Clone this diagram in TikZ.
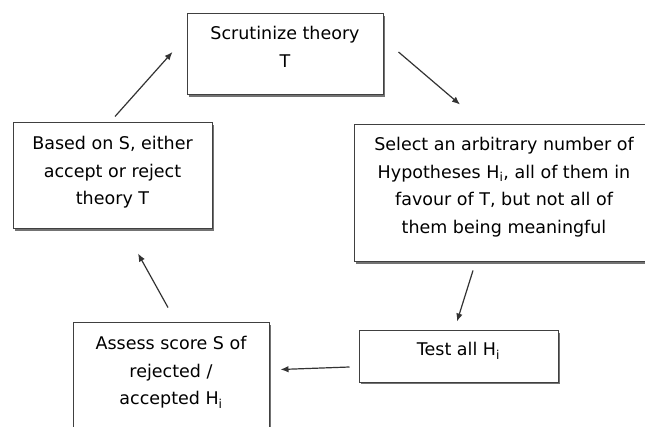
\documentclass[tikz,border=0pt]{standalone}
\usepackage{fontspec}
\setmainfont{DejaVu Sans}
\usetikzlibrary{calc,arrows.meta,shadows}
\begin{document}
\begin{tikzpicture}[x=1pt,y=-1pt,
  box/.style={draw=black!75, line width=1pt, fill=white, rectangle, inner sep=0pt,
    drop shadow={shadow xshift=1.8pt, shadow yshift=-1.8pt, fill=black!55, opacity=1}},
  txt/.style={anchor=north, align=center, font=\fontsize{17.5}{27.5}\selectfont, inner sep=0pt, text=black},
  arr/.style={-{Latex[length=8pt,width=6.5pt]}, line width=1.2pt, draw=black!80}]
\useasboundingbox (0,0) rectangle (645,427);
\clip (0,0) rectangle (645,427);
\fill[white] (0,0) rectangle (645,427);

\node[box, minimum width=196, minimum height=81] (top) at (285,54.5) {};
\node[box, minimum width=300, minimum height=137] (right) at (504,193.5) {};
\node[box, minimum width=199, minimum height=106] (based) at (112.5,176) {};
\node[box, minimum width=196, minimum height=117] (assess) at (171,381.5) {};
\node[box, minimum width=199, minimum height=51] (test) at (458.5,356.5) {};

\node[txt] (topT) at ($(top.north)+(0,13)$) {Scrutinize theory\\T};
\node[txt] (rightT) at ($(right.north)+(0,13)$) {Select an arbitrary number of\\Hypotheses H\textsubscript{i}, all of them in\\favour of T, but not all of\\them being meaningful};
\node[txt] (basedT) at ($(based.north)+(0,14)$) {Based on S, either\\accept or reject\\theory T};
\node[txt] (assessT) at ($(assess.north)+(0,14)$) {Assess score S of\\rejected /\\accepted H\textsubscript{i}};
\node[txt] (testT) at ($(test.north)+(0,12)$) {Test all H\textsubscript{i}};

\draw[arr] ($(top.east)+(15,-2.5)$) -- ($(right.north)+(-44,-20)$);
\draw[arr] ($(right.south)+(-31,8)$) -- ($(test.north)+(-1.5,-9)$);
\draw[arr] ($(test.west)+(-9,10.5)$) -- ($(assess.north east)+(11,47)$);
\draw[arr] ($(assess.north)+(-3,-15)$) -- ($(based.south)+(25.5,24)$);
\draw[arr] ($(based.north)+(2.5,-6)$) -- ($(top.west)+(-14,-2.5)$);
\end{tikzpicture}
\end{document}
